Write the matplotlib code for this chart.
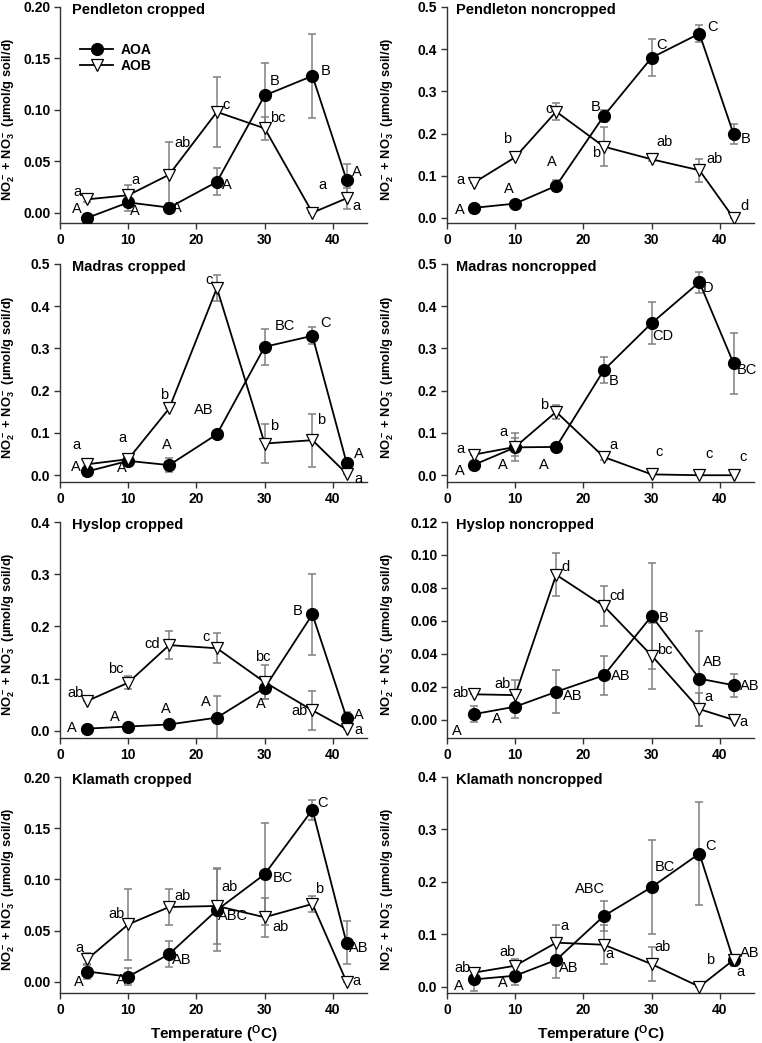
import matplotlib
matplotlib.use('Agg')
import matplotlib.pyplot as plt
from matplotlib.ticker import FormatStrFormatter, MultipleLocator

plt.rcParams['font.family'] = ['Liberation Sans', 'DejaVu Sans']
plt.rcParams['font.weight'] = 'bold'
plt.rcParams['mathtext.fontset'] = 'custom'
plt.rcParams['mathtext.rm'] = 'Liberation Sans:bold'
plt.rcParams['mathtext.it'] = 'Liberation Sans:bold'
plt.rcParams['mathtext.bf'] = 'Liberation Sans:bold'

# ---------------- data ----------------
temps = [4, 10, 16, 23, 30, 37, 42]

titles = ["Pendleton cropped", "Pendleton noncropped",
          "Madras cropped", "Madras noncropped",
          "Hyslop cropped", "Hyslop noncropped",
          "Klamath cropped", "Klamath noncropped"]

pend_c_aoa = [-0.005, 0.010, 0.005, 0.030, 0.114, 0.133, 0.032]
pend_c_aoa_err = [0.004, 0.008, 0.004, 0.013, 0.032, 0.041, 0.015]
pend_c_aob = [0.013, 0.017, 0.037, 0.098, 0.082, 0.000, 0.014]
pend_c_aob_err = [0.003, 0.010, 0.032, 0.034, 0.011, 0.0, 0.010]
pend_c_aoa_let = ["A", "A", "A", "A", "B", "B", "A"]
pend_c_aob_let = ["a", "a", "ab", "c", "bc", "a", "a"]

pend_n_aoa = [0.024, 0.034, 0.076, 0.242, 0.380, 0.437, 0.199]
pend_n_aoa_err = [0.003, 0.004, 0.013, 0.015, 0.043, 0.020, 0.024]
pend_n_aob = [0.084, 0.144, 0.252, 0.169, 0.139, 0.113, 0.0]
pend_n_aob_err = [0.0, 0.0, 0.020, 0.047, 0.003, 0.027, 0.0]
pend_n_aoa_let = ["A", "A", "A", "B", "C", "C", "B"]
pend_n_aob_let = ["a", "b", "c", "b", "ab", "ab", "d"]

madr_c_aoa = [0.009, 0.034, 0.024, 0.097, 0.304, 0.330, 0.030]
madr_c_aoa_err = [0.005, 0.010, 0.017, 0.0, 0.043, 0.020, 0.005]
madr_c_aob = [0.026, 0.038, 0.158, 0.443, 0.075, 0.083, 0.004]
madr_c_aob_err = [0.005, 0.008, 0.0, 0.030, 0.047, 0.063, 0.0]
madr_c_aoa_let = ["A", "A", "A", "AB", "BC", "C", "A"]
madr_c_aob_let = ["a", "a", "b", "c", "b", "b", "a"]

madr_n_aoa = [0.025, 0.066, 0.067, 0.249, 0.360, 0.457, 0.265]
madr_n_aoa_err = [0.0, 0.021, 0.0, 0.030, 0.050, 0.025, 0.072]
madr_n_aob = [0.049, 0.067, 0.150, 0.043, 0.002, 0.0, 0.0]
madr_n_aob_err = [0.0, 0.034, 0.016, 0.008, 0.0, 0.0, 0.0]
madr_n_aoa_let = ["A", "A", "A", "B", "CD", "D", "BC"]
madr_n_aob_let = ["a", "a", "b", "a", "c", "c", "c"]

hysl_c_aoa = [0.004, 0.008, 0.012, 0.025, 0.082, 0.223, 0.025]
hysl_c_aoa_err = [0.0, 0.0, 0.0, 0.041, 0.021, 0.077, 0.010]
hysl_c_aob = [0.057, 0.092, 0.164, 0.158, 0.093, 0.039, 0.003]
hysl_c_aob_err = [0.0, 0.013, 0.027, 0.029, 0.032, 0.038, 0.0]
hysl_c_aoa_let = ["A", "A", "A", "A", "A", "B", "A"]
hysl_c_aob_let = ["ab", "bc", "cd", "c", "bc", "ab", "a"]

hysl_n_aoa = [0.0035, 0.008, 0.017, 0.027, 0.063, 0.025, 0.021]
hysl_n_aoa_err = [0.005, 0.007, 0.013, 0.012, 0.032, 0.029, 0.007]
hysl_n_aob = [0.0155, 0.015, 0.088, 0.069, 0.039, 0.0065, 0.0]
hysl_n_aob_err = [0.0, 0.009, 0.013, 0.012, 0.020, 0.010, 0.0]
hysl_n_aoa_let = ["A", "A", "AB", "AB", "B", "AB", "AB"]
hysl_n_aob_let = ["ab", "ab", "d", "cd", "bc", "a", "a"]

klam_c_aoa = [0.010, 0.005, 0.027, 0.070, 0.105, 0.168, 0.038]
klam_c_aoa_err = [0.007, 0.008, 0.013, 0.040, 0.050, 0.010, 0.021]
klam_c_aob = [0.022, 0.056, 0.073, 0.074, 0.063, 0.076, 0.0]
klam_c_aob_err = [0.006, 0.035, 0.018, 0.037, 0.019, 0.008, 0.0]
klam_c_aoa_let = ["A", "A", "AB", "ABC", "BC", "C", "AB"]
klam_c_aob_let = ["a", "ab", "ab", "ab", "ab", "b", "a"]

klam_n_aoa = [0.014, 0.021, 0.051, 0.135, 0.190, 0.254, 0.050]
klam_n_aoa_err = [0.022, 0.018, 0.034, 0.029, 0.090, 0.099, 0.010]
klam_n_aob = [0.027, 0.040, 0.084, 0.080, 0.043, 0.0, 0.051]
klam_n_aob_err = [0.007, 0.012, 0.033, 0.037, 0.032, 0.0, 0.010]
klam_n_aoa_let = ["A", "A", "AB", "ABC", "BC", "C", "AB"]
klam_n_aob_let = ["ab", "ab", "a", "a", "ab", "b", "a"]

# y-axis settings per panel (top, step, decimals)
y_tops = [0.20, 0.5, 0.5, 0.5, 0.4, 0.12, 0.20, 0.4]
y_steps = [0.05, 0.1, 0.1, 0.1, 0.1, 0.02, 0.05, 0.1]
y_bottoms = [-0.010, -0.012, -0.016, -0.016, -0.014, -0.011, -0.011, -0.012]
y_fmts = ['%.2f', '%.1f', '%.1f', '%.1f', '%.1f', '%.2f', '%.2f', '%.1f']

# ---------- label offsets (pixels) ----------
pend_c_aoa_off = [(-10, 9), (7, -9), (8, 0), (10, -3), (10, 14), (13, 5), (10, 8)]
pend_c_aob_off = [(-10, 7), (7, 15), (13, 32), (9, 7), (13, 10), (10, 28), (10, -8)]
pend_n_aoa_off = [(-14, -2), (-6, 15), (-4, 24), (-8, 9), (10, 13), (13, 7), (12, -5)]
pend_n_aob_off = [(-14, 3), (-8, 18), (-7, 3), (-8, -6), (13, 17), (15, 11), (11, 12)]
madr_c_aoa_off = [(-11, 4), (-6, -7), (-2, 20), (-13, 24), (20, 21), (13, 13), (12, 9)]
madr_c_aob_off = [(-11, 19), (-6, 21), (-5, 13), (-8, 8), (9, 18), (9, 20), (12, -5)]
madr_n_aoa_off = [(-14, -6), (-12, -18), (-12, -18), (10, -11), (11, -13), (9, -6), (13, -7)]
madr_n_aob_off = [(-14, 6), (-12, 15), (-12, 7), (10, 12), (7, 22), (10, 21), (10, 18)]
hysl_c_aoa_off = [(-15, 1), (-13, 10), (-3, 15), (-11, 16), (-4, -16), (-15, 3), (12, 3)]
hysl_c_aob_off = [(-12, 8), (-12, 14), (-17, 1), (-11, 11), (-2, 25), (-13, -1), (12, -1)]
hysl_n_aoa_off = [(-17, -17), (-18, -12), (17, -4), (17, -1), (12, -2), (13, 17), (16, -1)]
hysl_n_aob_off = [(-14, 1), (-13, 11), (9, 8), (13, 10), (13, 6), (9, 12), (10, -2)]
klam_c_aoa_off = [(-8, -10), (-7, -3), (13, -6), (16, -6), (18, -4), (10, 7), (12, -5)]
klam_c_aob_off = [(-8, 11), (-12, 10), (13, 11), (13, 19), (16, -10), (7, 15), (10, 1)]
klam_n_aoa_off = [(-15, -7), (-12, -7), (13, -8), (-14, 27), (13, 20), (11, 8), (16, 7)]
klam_n_aob_off = [(-12, 5), (-8, 14), (8, 17), (6, -9), (11, 17), (11, 27), (7, -12)]

panels = [
    (pend_c_aoa, pend_c_aoa_err, pend_c_aob, pend_c_aob_err, pend_c_aoa_let, pend_c_aob_let, pend_c_aoa_off, pend_c_aob_off),
    (pend_n_aoa, pend_n_aoa_err, pend_n_aob, pend_n_aob_err, pend_n_aoa_let, pend_n_aob_let, pend_n_aoa_off, pend_n_aob_off),
    (madr_c_aoa, madr_c_aoa_err, madr_c_aob, madr_c_aob_err, madr_c_aoa_let, madr_c_aob_let, madr_c_aoa_off, madr_c_aob_off),
    (madr_n_aoa, madr_n_aoa_err, madr_n_aob, madr_n_aob_err, madr_n_aoa_let, madr_n_aob_let, madr_n_aoa_off, madr_n_aob_off),
    (hysl_c_aoa, hysl_c_aoa_err, hysl_c_aob, hysl_c_aob_err, hysl_c_aoa_let, hysl_c_aob_let, hysl_c_aoa_off, hysl_c_aob_off),
    (hysl_n_aoa, hysl_n_aoa_err, hysl_n_aob, hysl_n_aob_err, hysl_n_aoa_let, hysl_n_aob_let, hysl_n_aoa_off, hysl_n_aob_off),
    (klam_c_aoa, klam_c_aoa_err, klam_c_aob, klam_c_aob_err, klam_c_aoa_let, klam_c_aob_let, klam_c_aoa_off, klam_c_aob_off),
    (klam_n_aoa, klam_n_aoa_err, klam_n_aob, klam_n_aob_err, klam_n_aoa_let, klam_n_aob_let, klam_n_aoa_off, klam_n_aob_off),
]

# ---------------- layout ----------------
W, H = 762, 1043
fig = plt.figure(figsize=(W / 100, H / 100), dpi=100)
col_x = [60, 447]
ax_w = 307
rows = [(7, 223), (264, 482), (522, 738), (777, 993)]

ylabel = r'NO$_2^-$ + NO$_3^-$ (µmol/g soil/d)'
xlabel = r'Temperature ($^{\mathrm{O}}$C)'

for i, (aoa, aoa_e, aob, aob_e, aoa_l, aob_l, aoa_o, aob_o) in enumerate(panels):
    r, c = divmod(i, 2)
    top, bot = rows[r]
    ax = fig.add_axes([col_x[c] / W, 1 - bot / H, ax_w / W, (bot - top) / H])

    ax.errorbar(temps, aoa, yerr=aoa_e, fmt='none', ecolor='#808080',
                elinewidth=1.1, capsize=3, capthick=1.1, zorder=1)
    ax.errorbar(temps, aob, yerr=aob_e, fmt='none', ecolor='#808080',
                elinewidth=1.1, capsize=3, capthick=1.1, zorder=1)
    ax.plot(temps, aoa, '-o', color='black', ms=8.5, lw=1.3, zorder=3, label='AOA')
    ax.plot(temps, aob, '-v', color='black', mfc='white', mec='black', ms=9,
            mew=0.9, lw=1.3, zorder=4, label='AOB')

    for x, y, t, (dx, dy) in zip(temps, aoa, aoa_l, aoa_o):
        ax.annotate(t, (x, y), xytext=(dx, dy), textcoords='offset pixels',
                    ha='center', va='center', fontsize=10.5, fontweight='normal', zorder=5)
    for x, y, t, (dx, dy) in zip(temps, aob, aob_l, aob_o):
        ax.annotate(t, (x, y), xytext=(dx, dy), textcoords='offset pixels',
                    ha='center', va='center', fontsize=10.5, fontweight='normal', zorder=5)

    ax.set_xlim(0, 45)
    ax.set_ylim(y_bottoms[i], y_tops[i])
    ax.set_xticks([0, 10, 20, 30, 40])
    ax.yaxis.set_major_locator(MultipleLocator(y_steps[i]))
    ax.yaxis.set_major_formatter(FormatStrFormatter(y_fmts[i]))
    for s in ['top', 'right']:
        ax.spines[s].set_visible(False)
    for s in ['left', 'bottom']:
        ax.spines[s].set_linewidth(1.0)
        ax.spines[s].set_color('#333333')
    ax.tick_params(direction='out', length=4, width=1, labelsize=10, pad=3,
                   color='#333333')

    ax.text(0.04 if c == 0 else 0.03, 0.985, titles[i], transform=ax.transAxes,
            ha='left', va='center', fontsize=10.5, fontweight='bold')

    ax.set_ylabel(ylabel, fontsize=9.3, fontweight='bold')
    ax.yaxis.set_label_coords(-0.14 if c == 0 else -0.165, 0.48)

    if r == 3:
        ax.set_xlabel(xlabel, fontsize=11, fontweight='bold')
        ax.xaxis.set_label_coords(0.5, -0.14)

    if i == 0:
        ax.legend(loc='upper left', bbox_to_anchor=(0.065, 0.835), frameon=False,
                  fontsize=10, handlelength=2.4, handletextpad=0.5,
                  labelspacing=0.15, borderpad=0, borderaxespad=0, numpoints=1)

fig.savefig('out.png', dpi=100)
